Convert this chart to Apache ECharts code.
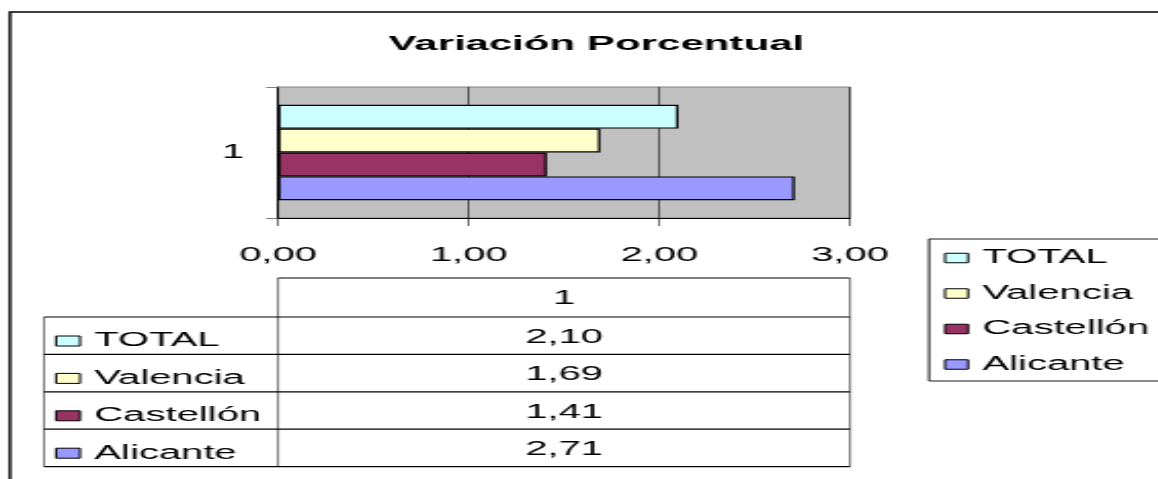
<!DOCTYPE html>
<html>
<head>
<meta charset="utf-8">
<script src="https://cdn.jsdelivr.net/npm/echarts@6/dist/echarts.min.js"></script>
<style>
  html, body { margin: 0; padding: 0; background: #fff; overflow: hidden; }
  #wrap { width: 1158px; height: 479px; overflow: hidden; }
  #main { height: 479px; transform-origin: 0 0; }
</style>
</head>
<body>
<div id="wrap"><div id="main"></div></div>
<script>
// the original picture is an Excel chart stretched sideways, so draw narrow and stretch
var S = 2.05;

var titleText = 'Variación Porcentual';
var categories = ['1'];
var seriesNames = ['TOTAL', 'Valencia', 'Castellón', 'Alicante'];
var seriesValues = [2.10, 1.69, 1.41, 2.71];
var seriesColors = ['#CCFFFF', '#FFFFCC', '#993366', '#9999FF'];
var xTickLabels = ['0,00', '1,00', '2,00', '3,00'];

var FONT = '"Liberation Sans", Arial, sans-serif';
var FS = 19.5;

function X(px) { return px / S; }
function fmt(v) { return v.toFixed(2).replace('.', ','); }

var el = document.getElementById('main');
el.style.width = (1158 / S) + 'px';
el.style.transform = 'scaleX(' + S + ')';

var myChart = echarts.init(el, null, { renderer: 'canvas' });

function setSeries() {
    var series = [];
    for (var i = 0; i < seriesNames.length; i++) {
        series.push({
            name: seriesNames[i],
            type: 'bar',
            data: [seriesValues[i]],
            barGap: '0%',
            barCategoryGap: '27%',
            itemStyle: { color: seriesColors[i], borderColor: '#000', borderWidth: 1.2 }
        });
    }
    return series;
}

// data table under the chart
var tblLeft = 44, tblMid = 278, tblRight = 850;
var headTop = 278, headBottom = 317, rowH = 37.4;

function setTable() {
    var g = [];
    var bottom = headBottom + rowH * seriesNames.length;
    function hline(x1, x2, y, c) {
        g.push({ type: 'line', silent: true, shape: { x1: X(x1), y1: y, x2: X(x2), y2: y },
            style: { stroke: c || '#000', lineWidth: 1.2 } });
    }
    function vline(x, y1, y2) {
        g.push({ type: 'line', silent: true, shape: { x1: X(x), y1: y1, x2: X(x), y2: y2 },
            style: { stroke: '#000', lineWidth: 0.55 } });
    }
    hline(tblMid, tblRight, headTop);
    hline(tblLeft, tblRight, headBottom);
    for (var i = 1; i <= seriesNames.length; i++) {
        hline(tblLeft, tblRight, headBottom + rowH * i);
    }
    vline(tblLeft, headBottom, bottom);
    vline(tblMid, headTop, bottom);
    vline(tblRight, headTop, bottom);

    var cx = X((tblMid + tblRight) / 2);
    g.push({ type: 'text', silent: true, x: cx, y: (headTop + headBottom) / 2 + 1.5,
        style: { text: categories[0], fill: '#000', font: FS + 'px ' + FONT, align: 'center', verticalAlign: 'middle' } });
    for (var j = 0; j < seriesValues.length; j++) {
        g.push({ type: 'text', silent: true, x: cx, y: headBottom + rowH * j + rowH / 2 + 2,
            style: { text: fmt(seriesValues[j]), fill: '#000', font: FS + 'px ' + FONT, align: 'center', verticalAlign: 'middle' } });
    }
    // outer chart frame
    g.push({ type: 'rect', silent: true, z: -1, shape: { x: X(10), y: 12, width: 2000, height: 1000 },
        style: { fill: 'none', stroke: '#000', lineWidth: 1.4 } });
    // legend frame
    g.push({ type: 'rect', silent: true, shape: { x: X(929), y: 239, width: 400, height: 142 },
        style: { fill: 'none', stroke: '#000', lineWidth: 0.9 } });
    return g;
}

var option = {
    animation: false,
    backgroundColor: '#fff',
    title: {
        text: titleText,
        left: X(586),
        top: 29,
        textAlign: 'center',
        textStyle: { fontSize: 20.5, fontWeight: 'bold', color: '#000', fontFamily: FONT }
    },
    legend: [
        {
            data: seriesNames,
            orient: 'vertical',
            left: X(944),
            top: 248,
            padding: 0,
            itemWidth: X(967) - X(944),
            itemHeight: 9.5,
            itemGap: 15.5,
            icon: 'rect',
            selectedMode: false,
            itemStyle: { borderColor: '#000', borderWidth: 1 },
            textStyle: { fontSize: FS, lineHeight: 20, color: '#000', fontFamily: FONT, padding: [0, 0, 0, 2] }
        },
        {
            data: seriesNames,
            orient: 'vertical',
            left: X(55),
            top: 331,
            padding: 0,
            itemWidth: X(79) - X(55),
            itemHeight: 10,
            itemGap: 17.4,
            icon: 'rect',
            selectedMode: false,
            itemStyle: { borderColor: '#000', borderWidth: 1 },
            textStyle: { fontSize: FS, lineHeight: 20, color: '#000', fontFamily: FONT, padding: [0, 0, 0, 2] }
        }
    ],
    grid: {
        left: X(278),
        top: 87,
        width: X(850) - X(278),
        height: 131,
        containLabel: false,
        outerBoundsMode: 'none',
        show: true,
        backgroundColor: '#C0C0C0',
        borderColor: '#808080',
        borderWidth: 1
    },
    xAxis: {
        type: 'value',
        min: 0,
        max: 3,
        interval: 1,
        axisLine: { show: true, lineStyle: { color: '#000', width: 1 } },
        axisTick: { show: true, length: 8, lineStyle: { color: '#000', width: 0.55 } },
        axisLabel: {
            margin: 28,
            fontSize: FS,
            color: '#000',
            fontFamily: FONT,
            formatter: function (v) { return xTickLabels[Math.round(v)]; }
        },
        splitLine: { show: true, lineStyle: { color: '#000', width: 0.55 } }
    },
    yAxis: {
        type: 'category',
        data: categories,
        axisLine: { show: true, lineStyle: { color: '#000', width: 1 } },
        axisTick: { show: true, length: X(12), lineStyle: { color: '#808080', width: 1 } },
        axisLabel: { margin: X(34), fontSize: FS, color: '#000', fontFamily: FONT },
        splitLine: { show: false }
    },
    graphic: setTable(),
    series: setSeries()
};

myChart.setOption(option);
</script>
</body>
</html>
